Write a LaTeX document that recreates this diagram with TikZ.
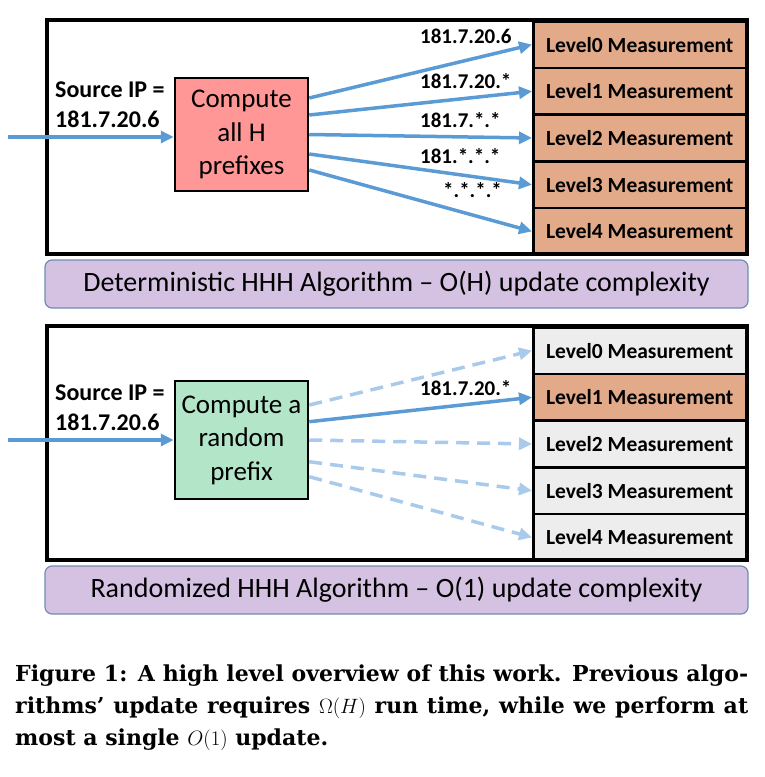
\documentclass[tikz,border=0pt]{standalone}
\usepackage{fontspec}
\setmainfont{DejaVu Serif}
\newfontfamily\calib{Carlito}
\usetikzlibrary{arrows.meta}
\definecolor{arrblue}{HTML}{5B9BD5}
\definecolor{dashblue}{HTML}{A9CAEA}
\definecolor{pinkfill}{HTML}{FF9797}
\definecolor{greenfill}{HTML}{B3E5C9}
\definecolor{measor}{HTML}{E2AA88}
\definecolor{measgray}{HTML}{EDEDED}
\definecolor{purplefill}{HTML}{D5C2E3}
\definecolor{purpleedge}{HTML}{6F8DB5}
\begin{document}
\begin{tikzpicture}[x=1pt,y=-1pt,
  meas/.style={draw=black, line width=2.5pt, minimum width=213pt, minimum height=46.7pt,
    inner sep=0pt, anchor=north west, font=\calib\bfseries\fontsize{21.5}{25}\selectfont},
  compbox/.style={draw=black, line width=2.5pt, minimum width=133pt, inner sep=0pt,
    align=center, font=\calib\fontsize{27}{33.5}\selectfont},
  srclabel/.style={anchor=base west, inner sep=0pt, font=\calib\bfseries\fontsize{24}{28}\selectfont},
  arrlabel/.style={anchor=base west, inner sep=0pt, font=\calib\bfseries\fontsize{21}{25}\selectfont},
  arr/.style={draw=arrblue, line width=3.5pt, -{Triangle[length=13pt,width=12pt]}},
  darr/.style={draw=dashblue, line width=3.5pt, dash pattern=on 13pt off 8pt, -{Triangle[length=13pt,width=12pt]}},
  purp/.style={draw=purpleedge, line width=1.2pt, fill=purplefill, rounded corners=7pt,
    minimum width=703pt, minimum height=48pt, inner sep=0pt, font=\calib\fontsize{28}{32}\selectfont},
  frame/.style={draw=black, line width=4pt}
]
\useasboundingbox (0,0) rectangle (765,777);

% ---------- top panel ----------
\node[meas, fill=measor] (a0) at (532,20) {Level0 Measurement};
\node[meas, fill=measor] (a1) at (532,66.7) {Level1 Measurement};
\node[meas, fill=measor] (a2) at (532,113.4) {Level2 Measurement};
\node[meas, fill=measor] (a3) at (532,160.1) {Level3 Measurement};
\node[meas, fill=measor] (a4) at (532,206.8) {Level4 Measurement};
\draw[frame] (46.5,20) rectangle (747,253.5);

\node[compbox, fill=pinkfill, minimum height=113pt] (cA) at (241.5,134.5) {Compute\\all H\\prefixes};
\node[srclabel] (sA1) at (55,97) {Source IP =};
\node[srclabel] (sA2) at (55,127) {181.7.20.6};
\coordinate (inA) at (8,137);
\draw[arr] (inA) -- ([yshift=-2.5pt]cA.west);

\draw[arr] ([yshift=36.5pt]cA.east) -- (a0.west);
\draw[arr] ([yshift=19.5pt]cA.east) -- (a1.west);
\draw[arr] ([yshift=0pt]cA.east) -- (a2.west);
\draw[arr] ([yshift=-19.5pt]cA.east) -- (a3.west);
\draw[arr] ([yshift=-35.5pt]cA.east) -- (a4.west);

\node[arrlabel] (lA0) at (420,43) {181.7.20.6};
\node[arrlabel] (lA1) at (420,88) {181.7.20.*};
\node[arrlabel] (lA2) at (420,127) {181.7.*.*};
\node[arrlabel] (lA3) at (420,163) {181.*.*.*};
\node[arrlabel] (lA4) at (443,197) {*.*.*.*};

\node[purp] (pA) at (396.5,284) {Deterministic HHH Algorithm – O(H) update complexity};

% ---------- bottom panel ----------
\node[meas, fill=measgray] (b0) at (532,326) {Level0 Measurement};
\node[meas, fill=measor] (b1) at (532,372.7) {Level1 Measurement};
\node[meas, fill=measgray] (b2) at (532,419.4) {Level2 Measurement};
\node[meas, fill=measgray] (b3) at (532,466.1) {Level3 Measurement};
\node[meas, fill=measgray] (b4) at (532,512.8) {Level4 Measurement};
\draw[frame] (46.5,325.5) rectangle (747,560);

\node[compbox, fill=greenfill, minimum height=118pt] (cB) at (241.5,440) {Compute a\\random\\prefix};
\node[srclabel] (sB1) at (55,400) {Source IP =};
\node[srclabel] (sB2) at (55,430) {181.7.20.6};
\coordinate (inB) at (8,440);
\draw[arr] (inB) -- (cB.west);

\draw[darr] ([yshift=35pt]cB.east) -- (b0.west);
\draw[arr] ([yshift=18.3pt]cB.east) -- (b1.west);
\draw[darr] ([yshift=0pt]cB.east) -- (b2.west);
\draw[darr] ([yshift=-21.7pt]cB.east) -- (b3.west);
\draw[darr] ([yshift=-36.7pt]cB.east) -- (b4.west);

\node[arrlabel] (lB1) at (420,395) {181.7.20.*};

\node[purp] (pB) at (396.5,590) {Randomized HHH Algorithm – O(1) update complexity};

% ---------- caption ----------
\node[anchor=north west, text width=733pt, align=justify, inner sep=0pt,
  font=\bfseries\fontsize{22}{32}\selectfont] (cap) at (15,665)
  {Figure 1: A high level overview of this work. Previous algo-\linebreak
   rithms’ update requires $\Omega(H)$ run time, while we perform at\linebreak
   most a single $O(1)$ update.};
\end{tikzpicture}
\end{document}
